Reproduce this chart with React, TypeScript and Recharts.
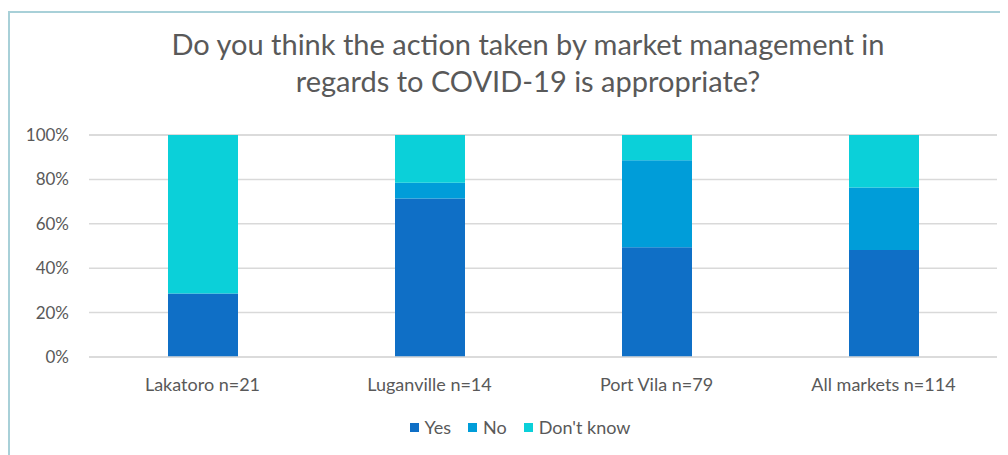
import { Bar, BarChart, CartesianGrid, XAxis, YAxis } from "recharts";

const markets = ["Lakatoro n=21", "Luganville n=14", "Port Vila n=79", "All markets n=114"];
const yesPct = [28.6, 71.4, 49.4, 48.2];
const noPct = [0, 7.1, 39.2, 28.1];
const dontKnowPct = [71.4, 21.5, 11.4, 23.7];
const percentTicks = [0, 20, 40, 60, 80, 100];

const seriesList = [
  { key: "yes", name: "Yes", color: "#0F6FC6" },
  { key: "no", name: "No", color: "#009DD9" },
  { key: "dontKnow", name: "Don't know", color: "#0BD0D9" },
];

const data = markets.map((market, i) => ({
  market,
  yes: yesPct[i],
  no: noPct[i],
  dontKnow: dontKnowPct[i],
}));

const font = "Lato, 'DejaVu Sans', sans-serif";

function LegendRow() {
  return (
    <div
      style={{
        position: "absolute",
        left: 0,
        width: 1020,
        top: 403,
        display: "flex",
        justifyContent: "center",
        gap: 17,
      }}
    >
      {seriesList.map((s) => (
        <div key={s.key} style={{ display: "flex", alignItems: "center", fontSize: 18, color: "#595959" }}>
          <span style={{ width: 9, height: 9, background: s.color, marginRight: 6, display: "inline-block" }} />
          {s.name}
        </div>
      ))}
    </div>
  );
}

export default function App() {
  return (
    <div
      style={{
        position: "relative",
        marginTop: 3,
        width: 998,
        height: 442,
        borderLeft: "2px solid #a8d0d8",
        borderTop: "2px solid #a8d0d8",
        fontFamily: font,
        overflow: "hidden",
      }}
    >
      <div
        style={{
          position: "absolute",
          left: 0,
          width: 1036,
          top: 12,
          textAlign: "center",
          fontSize: 29,
          lineHeight: "37px",
          color: "#595959",
        }}
      >
        Do you think the action taken by market management in
        <br />
        regards to COVID-19 is appropriate?
      </div>
      <BarChart
        width={998}
        height={442}
        data={data}
        margin={{ top: 122, right: 11, bottom: 0, left: 0 }}
        barSize={70}
        style={{ position: "absolute", left: 0, top: 0 }}
      >
        <CartesianGrid vertical={false} stroke="#d9d9d9" strokeWidth={1.5} />
        <YAxis
          width={79}
          domain={[0, 100]}
          ticks={percentTicks}
          tickFormatter={(v) => `${v}%`}
          axisLine={false}
          tickLine={false}
          tickSize={6}
          tickMargin={14}
          tick={{ fill: "#595959", fontSize: 17, fontFamily: font }}
          interval={0}
        />
        <XAxis
          dataKey="market"
          axisLine={{ stroke: "#d9d9d9", strokeWidth: 1.5 }}
          tickLine={false}
          height={98}
          tickMargin={15}
          tick={{ fill: "#595959", fontSize: 18, fontFamily: font }}
          interval={0}
        />
        {seriesList.map((s) => (
          <Bar key={s.key} dataKey={s.key} name={s.name} stackId="a" fill={s.color} isAnimationActive={false} />
        ))}
      </BarChart>
      <LegendRow />
    </div>
  );
}
